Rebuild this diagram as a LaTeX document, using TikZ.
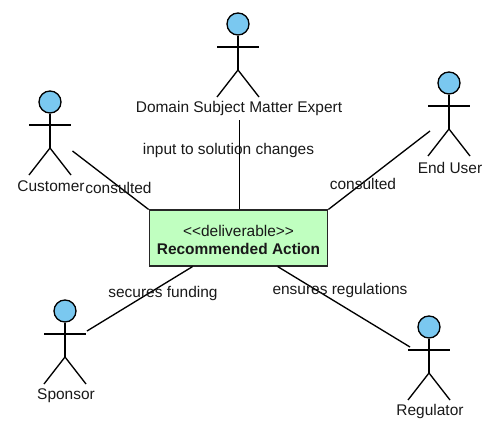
\documentclass[tikz,border=0pt]{standalone}
\usepackage{fontspec}
\setmainfont{Liberation Sans}
\usetikzlibrary{calc}
\definecolor{headblue}{RGB}{122,200,240}
\definecolor{boxgreen}{RGB}{192,255,192}

\begin{document}
\begin{tikzpicture}[
    x=0.75pt, y=-0.75pt,
    limb/.style={line width=1pt, draw=black},
    assoc/.style={line width=1pt, draw=black},
    actorhead/.style={circle, draw=black, fill=headblue, line width=1pt, minimum size=16.5pt, inner sep=0pt},
    actorname/.style={font=\fontsize{11.6pt}{13pt}\selectfont, text=black!90, inner sep=0pt},
    assoclabel/.style={font=\fontsize{11.6pt}{13pt}\selectfont, text=black!90, inner sep=0pt},
    deliverable/.style={draw=black!85, fill=boxgreen, line width=1.3pt, minimum width=133.5pt, minimum height=41.5pt, align=center, inner sep=0pt}
]
    \useasboundingbox (0,0) rectangle (503,428);

    % Actors
    \foreach \who/\x/\y/\txt in {expert/238/24/{Domain Subject Matter Expert}, customer/50/102/{Customer}, enduser/449/83/{End User}, sponsor/65/311/{Sponsor}, regulator/429/327/{Regulator}} {
        \node[actorhead] (\who) at (\x,\y) {};
        \coordinate (\who hip) at (\x,\y+46);
        \draw[limb] (\who.south) -- (\who hip);
        \draw[limb] (\x-21,\y+23) -- (\x+21,\y+23);
        \draw[limb] (\x-21,\y+73) -- (\who hip) -- (\x+21,\y+73);
        \node[actorname] (\who name) at (\x+1,\y+84.5) {\txt};
    }

    % Deliverable box
    \node[deliverable] (action) at (238.5,238) {\rule{0pt}{11.4pt}\fontsize{11.6pt}{13pt}\selectfont\color{black!90}<{}<deliverable>{}>\\[1pt]\fontsize{11.6pt}{13pt}\selectfont\bfseries\color{black!90}Recommended Action};

    % Free ends of the associations
    \coordinate (expertend) at (239.5,120);
    \coordinate (customerend) at (72.5,151);
    \coordinate (enduserend) at (430,131);
    \coordinate (sponsorend) at (87,331);
    \coordinate (regulatorend) at (410,347);

    % Associations
    \draw[assoc] (expertend) -- (expertend |- action.north);
    \draw[assoc] (customerend) -- (action.north west);
    \draw[assoc] (enduserend) -- (action.north east);
    \draw[assoc] (sponsorend) -- ($(action.south west)+(44,0)$);
    \draw[assoc] (regulatorend) -- ($(action.south west)+(129,0)$);

    % Association labels
    \node[assoclabel] (inputlabel) at (228.5,150.5) {input to solution changes};
    \node[assoclabel] (consultedleft) at (118.5,187.5) {consulted};
    \node[assoclabel] (consultedright) at (363,183.5) {consulted};
    \node[assoclabel] (fundinglabel) at (163,293.5) {secures funding};
    \node[assoclabel] (regulationslabel) at (340,290.5) {ensures regulations};

\end{tikzpicture}
\end{document}
